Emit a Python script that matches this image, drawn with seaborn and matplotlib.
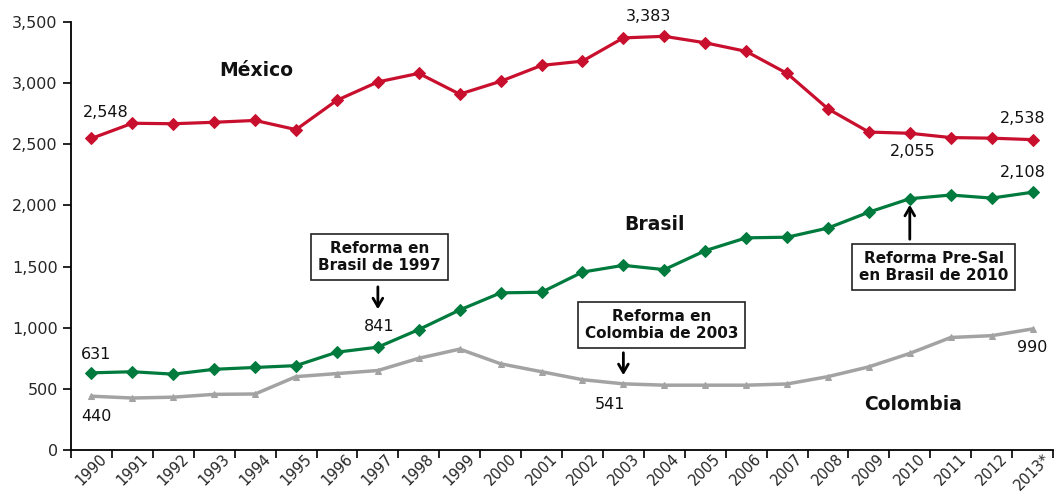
import matplotlib
matplotlib.use("Agg")
import matplotlib.pyplot as plt
import pandas as pd
import seaborn as sns
from matplotlib.ticker import FuncFormatter

years = ['1990', '1991', '1992', '1993', '1994', '1995', '1996', '1997', '1998', '1999',
         '2000', '2001', '2002', '2003', '2004', '2005', '2006', '2007', '2008', '2009',
         '2010', '2011', '2012', '2013*']
mexico = [2548, 2672, 2668, 2680, 2695, 2620, 2860, 3010, 3080, 2910,
          3015, 3145, 3180, 3370, 3383, 3330, 3260, 3080, 2790, 2600,
          2590, 2555, 2550, 2538]
brasil = [631, 640, 620, 660, 675, 690, 800, 841, 985, 1145,
          1285, 1290, 1455, 1510, 1475, 1630, 1735, 1740, 1815, 1945,
          2055, 2085, 2060, 2108]
colombia = [440, 425, 432, 455, 458, 600, 625, 650, 750, 825,
            705, 640, 575, 541, 530, 530, 530, 540, 600, 680,
            790, 920, 935, 990]

RED = '#C8102E'
GREEN = '#007A3D'
GRAY = '#A3A3A3'

sns.set_style('ticks')
plt.rcParams['font.family'] = ['DejaVu Sans']

df = pd.DataFrame({'pos': range(len(years)), 'year': years,
                   'México': mexico, 'Brasil': brasil, 'Colombia': colombia})

fig = plt.figure(figsize=(10.59, 4.93), dpi=100)
ax = fig.add_axes([71 / 1059, 43 / 493, 982 / 1059, 428 / 493])

sns.lineplot(data=df, x='pos', y='México', ax=ax, color=RED, lw=2.3,
             marker='D', markersize=6.5, markeredgecolor=RED)
sns.lineplot(data=df, x='pos', y='Brasil', ax=ax, color=GREEN, lw=2.3,
             marker='D', markersize=6.5, markeredgecolor=GREEN)
sns.lineplot(data=df, x='pos', y='Colombia', ax=ax, color=GRAY, lw=2.5,
             marker='^', markersize=4.5, markeredgecolor=GRAY)

ax.set_xlim(-0.5, len(years) - 0.5)
ax.set_ylim(0, 3500)
ax.set_yticks(range(0, 3501, 500))
ax.yaxis.set_major_formatter(FuncFormatter(lambda v, p: f'{int(v):,}'))
ax.set_xticks([i - 0.5 for i in range(len(years) + 1)])
ax.set_xticklabels([])
ax.set_xticks(range(len(years)), minor=True)
ax.set_xticklabels(years, minor=True, rotation=45, ha='center', fontsize=10.5)
ax.tick_params(axis='x', which='minor', length=0, pad=1)
ax.tick_params(axis='x', which='major', length=6, width=1.2, color='black')
ax.tick_params(axis='y', length=6, width=1.2, color='black', labelsize=11.5)
ax.set_xlabel('')
ax.set_ylabel('')
for s in ['left', 'bottom']:
    ax.spines[s].set_color('black')
    ax.spines[s].set_linewidth(1.3)
sns.despine(ax=ax)

# data labels
lab = dict(fontsize=11.5, ha='center', va='center', color='#111111')
ax.text(0.34, 2756, f'{mexico[0]:,}', **lab)
ax.text(13.62, 3541, f'{mexico[14]:,}', **lab)
ax.text(22.76, 2707, f'{mexico[-1]:,}', **lab)
ax.text(20.08, 2437, f'{brasil[20]:,}', **lab)
ax.text(22.76, 2273, f'{brasil[-1]:,}', **lab)
ax.text(0.12, 785, f'{brasil[0]:,}', **lab)
ax.text(7.04, 1006, f'{brasil[7]:,}', **lab)
ax.text(0.12, 278, f'{colombia[0]:,}', **lab)
ax.text(12.67, 376, f'{colombia[13]:,}', **lab)
ax.text(23.0, 842, f'{colombia[-1]:,}', **lab)

# series names
name = dict(fontsize=13.5, fontweight='bold', ha='center', va='center', color='#111111')
ax.text(4.02, 3107, 'México', **name)
ax.text(13.77, 1848, 'Brasil', **name)
ax.text(20.08, 376, 'Colombia', **name)

# reform boxes
box = dict(boxstyle='square,pad=0.45', fc='white', ec='#222222', lw=1.2)
bt = dict(fontsize=11, fontweight='bold', ha='center', va='center',
          linespacing=1.2, bbox=box, color='#111111')
ax.text(7.04, 1578, 'Reforma en\nBrasil de 1997', **bt)
ax.text(13.94, 1022, 'Reforma en\nColombia de 2003', **bt)
ax.text(20.59, 1496, 'Reforma Pre-Sal\nen Brasil de 2010', **bt)

arrow = dict(arrowstyle='->,head_width=0.35,head_length=0.6', color='black', lw=2)
ax.annotate('', xy=(7.0, 1128), xytext=(7.0, 1357), arrowprops=arrow)
ax.annotate('', xy=(13.0, 589), xytext=(13.0, 818), arrowprops=arrow)
ax.annotate('', xy=(20.0, 2028), xytext=(20.0, 1701), arrowprops=arrow)

fig.savefig('out.png', dpi=100)
